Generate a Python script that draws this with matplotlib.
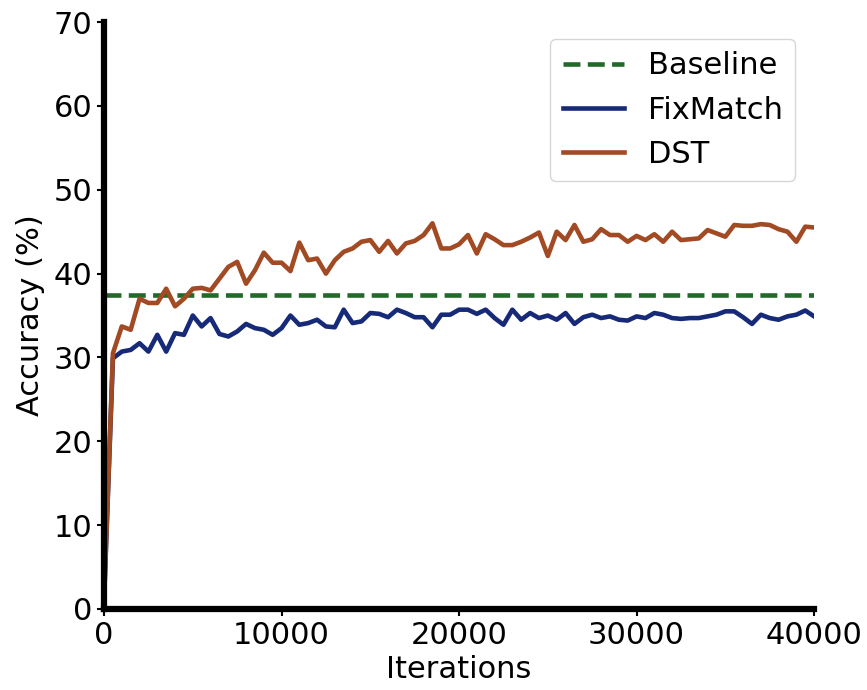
import matplotlib
matplotlib.use("Agg")
import matplotlib.pyplot as plt
import numpy as np

iterations = np.arange(0, 40001, 500)

baseline_acc = 37.5

fixmatch_acc = [
    1.0, 29.9, 30.7, 30.9, 31.7, 30.7, 32.7, 30.7, 32.9, 32.7,
    35.0, 33.7, 34.7, 32.8, 32.5, 33.1, 34.0, 33.5, 33.3, 32.7,
    33.5, 35.0, 33.9, 34.1, 34.5, 33.7, 33.6, 35.7, 34.1, 34.3,
    35.3, 35.2, 34.8, 35.7, 35.3, 34.8, 34.8, 33.6, 35.1, 35.1,
    35.7, 35.7, 35.2, 35.7, 34.7, 33.9, 35.7, 34.5, 35.3, 34.7,
    35.0, 34.5, 35.3, 34.0, 34.8, 35.1, 34.7, 34.9, 34.5, 34.4,
    34.9, 34.7, 35.3, 35.1, 34.7, 34.6, 34.7, 34.7, 34.9, 35.1,
    35.5, 35.5, 34.8, 34.0, 35.1, 34.7, 34.5, 34.9, 35.1, 35.6,
    34.9,
]

dst_acc = [
    1.0, 30.5, 33.7, 33.3, 37.0, 36.5, 36.5, 38.2, 36.1, 37.0,
    38.2, 38.3, 38.0, 39.4, 40.8, 41.4, 38.8, 40.4, 42.5, 41.3,
    41.3, 40.3, 43.7, 41.6, 41.8, 40.0, 41.6, 42.6, 43.0, 43.8,
    44.0, 42.6, 43.9, 42.4, 43.6, 43.9, 44.6, 46.0, 43.0, 43.0,
    43.5, 44.6, 42.4, 44.7, 44.1, 43.4, 43.4, 43.8, 44.3, 44.9,
    42.1, 45.0, 44.0, 45.8, 43.8, 44.1, 45.3, 44.6, 44.6, 43.8,
    44.5, 44.0, 44.7, 43.8, 45.0, 44.0, 44.1, 44.2, 45.2, 44.8,
    44.4, 45.8, 45.7, 45.7, 45.9, 45.8, 45.3, 45.0, 43.8, 45.6,
    45.5,
]

labels = ["Baseline", "FixMatch", "DST"]
colors = ["#22692a", "#172a78", "#a24a23"]

fig = plt.figure(figsize=(8.67, 6.9), dpi=100)
ax = fig.add_axes([0.12, 0.1174, 0.819, 0.8506])

ax.axhline(baseline_acc, color=colors[0], linestyle="--", linewidth=3.3, label=labels[0])
ax.plot(iterations, fixmatch_acc, color=colors[1], linewidth=3.3, label=labels[1])
ax.plot(iterations, dst_acc, color=colors[2], linewidth=3.3, label=labels[2])

ax.set_xlim(0, 40000)
ax.set_ylim(0, 70)
ax.set_xticks([0, 10000, 20000, 30000, 40000])
ax.set_yticks(np.arange(0, 71, 10))
ax.tick_params(labelsize=22, width=1.5, length=5)

for s in ["top", "right"]:
    ax.spines[s].set_visible(False)
for s in ["left", "bottom"]:
    ax.spines[s].set_linewidth(4.5)
    ax.spines[s].set_zorder(5)

ax.set_xlabel("Iterations", fontsize=22, labelpad=4)
ax.set_ylabel("Accuracy (%)", fontsize=22, labelpad=6)

ax.legend(loc="upper right", fontsize=22, bbox_to_anchor=(0.995, 0.997))

fig.savefig("out.png", dpi=100)
